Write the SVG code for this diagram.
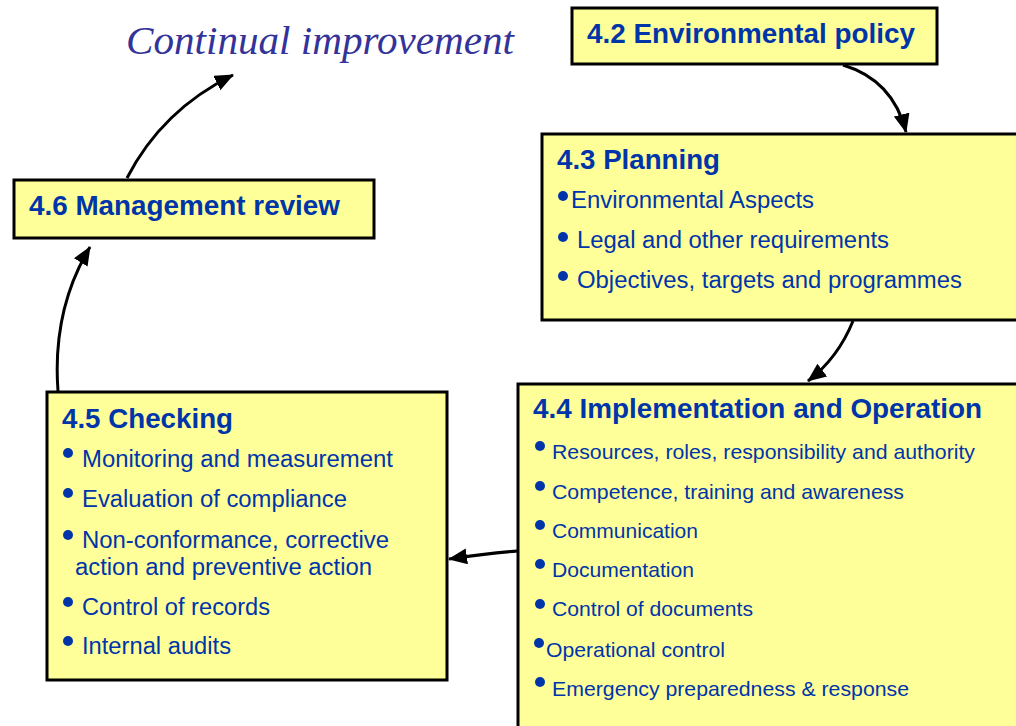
<svg xmlns="http://www.w3.org/2000/svg" width="1016" height="726" viewBox="0 0 1016 726">
  <style>
    .box { fill: #ffff99; stroke: #000; stroke-width: 3; }
    .title { font-family: "Liberation Sans", Arial, sans-serif; font-weight: bold; font-size: 28px; fill: #0035aa; }
    .item { font-family: "Liberation Sans", Arial, sans-serif; font-size: 23px; fill: #0035aa; }
    .item-s { font-family: "Liberation Sans", Arial, sans-serif; font-size: 21px; fill: #0035aa; }
    .dot { fill: #0035aa; }
    .cont { font-family: "Liberation Serif", "Times New Roman", serif; font-style: italic; font-size: 40px; fill: #333399; }
    .link { fill: none; stroke: #000; stroke-width: 3; }
  </style>
  <defs>
    <marker id="arrow" markerUnits="userSpaceOnUse" markerWidth="20" markerHeight="18" refX="18" refY="8" orient="auto">
      <path d="M0,0 L19,8 L0,16 z" fill="#000"/>
    </marker>
  </defs>
  <rect width="1016" height="726" fill="#fff"/>

  <!-- cycle label -->
  <text class="cont" x="126" y="54" textLength="388" lengthAdjust="spacingAndGlyphs">Continual improvement</text>

  <!-- 4.2 -->
  <g id="policy">
    <rect class="box" x="572" y="8" width="365" height="56"/>
    <text class="title" x="587" y="43" textLength="328" lengthAdjust="spacingAndGlyphs">4.2 Environmental policy</text>
  </g>

  <!-- 4.3 -->
  <g id="planning">
    <rect class="box" x="542" y="134" width="490" height="186"/>
    <text class="title" x="557" y="169" textLength="163" lengthAdjust="spacingAndGlyphs">4.3 Planning</text>
    <circle class="dot" cx="563" cy="196" r="5"/>
    <text class="item" x="571" y="208" textLength="243" lengthAdjust="spacingAndGlyphs">Environmental Aspects</text>
    <circle class="dot" cx="563" cy="237" r="5"/>
    <text class="item" x="577" y="248" textLength="312" lengthAdjust="spacingAndGlyphs">Legal and other requirements</text>
    <circle class="dot" cx="563" cy="276" r="5"/>
    <text class="item" x="577" y="288" textLength="385" lengthAdjust="spacingAndGlyphs">Objectives, targets and programmes</text>
  </g>

  <!-- 4.4 -->
  <g id="implementation">
    <rect class="box" x="518" y="384" width="520" height="360"/>
    <text class="title" x="533" y="418" textLength="449" lengthAdjust="spacingAndGlyphs">4.4 Implementation and Operation</text>
    <circle class="dot" cx="540" cy="446" r="5"/>
    <text class="item-s" x="552" y="459" textLength="423" lengthAdjust="spacingAndGlyphs">Resources, roles, responsibility and authority</text>
    <circle class="dot" cx="540" cy="486" r="5"/>
    <text class="item-s" x="552" y="499" textLength="352" lengthAdjust="spacingAndGlyphs">Competence, training and awareness</text>
    <circle class="dot" cx="540" cy="525" r="5"/>
    <text class="item-s" x="552" y="538" textLength="146" lengthAdjust="spacingAndGlyphs">Communication</text>
    <circle class="dot" cx="540" cy="564" r="5"/>
    <text class="item-s" x="552" y="577" textLength="142" lengthAdjust="spacingAndGlyphs">Documentation</text>
    <circle class="dot" cx="540" cy="604" r="5"/>
    <text class="item-s" x="552" y="616" textLength="201" lengthAdjust="spacingAndGlyphs">Control of documents</text>
    <circle class="dot" cx="539" cy="643" r="5"/>
    <text class="item-s" x="546" y="657" textLength="179" lengthAdjust="spacingAndGlyphs">Operational control</text>
    <circle class="dot" cx="540" cy="682" r="5"/>
    <text class="item-s" x="552" y="696" textLength="357" lengthAdjust="spacingAndGlyphs">Emergency preparedness &amp; response</text>
  </g>

  <!-- 4.5 -->
  <g id="checking">
    <rect class="box" x="47" y="392" width="400" height="288"/>
    <text class="title" x="62" y="428" textLength="171" lengthAdjust="spacingAndGlyphs">4.5 Checking</text>
    <circle class="dot" cx="68" cy="453" r="5"/>
    <text class="item" x="82" y="467" textLength="311" lengthAdjust="spacingAndGlyphs">Monitoring and measurement</text>
    <circle class="dot" cx="68" cy="493" r="5"/>
    <text class="item" x="82" y="507" textLength="265" lengthAdjust="spacingAndGlyphs">Evaluation of compliance</text>
    <circle class="dot" cx="68" cy="535" r="5"/>
    <text class="item" x="82" y="548" textLength="307" lengthAdjust="spacingAndGlyphs">Non-conformance, corrective</text>
    <text class="item" x="75" y="575" textLength="297" lengthAdjust="spacingAndGlyphs">action and preventive action</text>
    <circle class="dot" cx="68" cy="602" r="5"/>
    <text class="item" x="82" y="615" textLength="188" lengthAdjust="spacingAndGlyphs">Control of records</text>
    <circle class="dot" cx="68" cy="641" r="5"/>
    <text class="item" x="82" y="654" textLength="149" lengthAdjust="spacingAndGlyphs">Internal audits</text>
  </g>

  <!-- 4.6 -->
  <g id="review">
    <rect class="box" x="14" y="180" width="360" height="58"/>
    <text class="title" x="29" y="215" textLength="311" lengthAdjust="spacingAndGlyphs">4.6 Management review</text>
  </g>

  <!-- connectors -->
  <g id="connectors">
    <path class="link" d="M843,65 Q893,80 906,132" marker-end="url(#arrow)"/>
    <path class="link" d="M853,321 Q838,358 808,381" marker-end="url(#arrow)"/>
    <path class="link" d="M518,551 Q490,553 449,559" marker-end="url(#arrow)"/>
    <path class="link" d="M58,391 Q52,310 90,247" marker-end="url(#arrow)"/>
    <path class="link" d="M127,178 Q162,110 233,75" marker-end="url(#arrow)"/>
  </g>
</svg>
